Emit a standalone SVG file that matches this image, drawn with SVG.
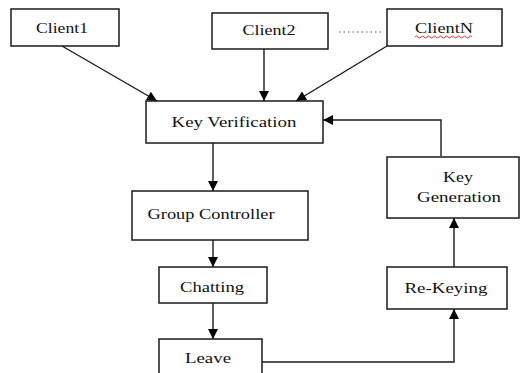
<svg xmlns="http://www.w3.org/2000/svg" width="521" height="373" viewBox="0 0 521 373">
<defs>
<style>
.box{fill:#fff;stroke:#1a1a1a;stroke-width:1.5}
.t{font-family:'Liberation Serif','DejaVu Serif',serif;font-size:15px;fill:#111;text-anchor:middle}
.c{stroke:#1a1a1a;stroke-width:1.4;fill:none}
</style>
<marker id="ah" viewBox="0 0 10 10" refX="10" refY="5" markerWidth="11" markerHeight="10" markerUnits="userSpaceOnUse" orient="auto">
<path d="M0,0 L10,5 L0,10 Z" fill="#000"/>
</marker>
</defs>
<rect width="521" height="373" fill="#fff"/>
<g id="connectors">
<line class="c" x1="62" y1="46" x2="157" y2="101" marker-end="url(#ah)"/>
<line class="c" x1="264" y1="49" x2="264" y2="101" marker-end="url(#ah)"/>
<line class="c" x1="387" y1="46" x2="296" y2="101" marker-end="url(#ah)"/>
<polyline class="c" points="441,156 441,120 323,120" marker-end="url(#ah)"/>
<line class="c" x1="213" y1="143" x2="213" y2="191" marker-end="url(#ah)"/>
<line class="c" x1="213" y1="240" x2="213" y2="267" marker-end="url(#ah)"/>
<line class="c" x1="213" y1="303" x2="213" y2="339" marker-end="url(#ah)"/>
<polyline class="c" points="262,362 454,362 454,309" marker-end="url(#ah)"/>
<line class="c" x1="454" y1="267" x2="454" y2="218" marker-end="url(#ah)"/>
<line x1="339" y1="32" x2="384" y2="32" stroke="#3a4f8a" stroke-width="1.2" stroke-dasharray="1.5,3"/>
</g>
<g id="client1"><rect class="box" x="11" y="9" width="108" height="37"/><text class="t" x="62" y="33" textLength="52" lengthAdjust="spacingAndGlyphs">Client1</text></g>
<g id="client2"><rect class="box" x="212" y="13" width="116" height="36"/><text class="t" x="269" y="35" textLength="53" lengthAdjust="spacingAndGlyphs">Client2</text></g>
<g id="clientN"><rect class="box" x="387" y="9" width="115" height="37"/><text class="t" x="444" y="33" textLength="58" lengthAdjust="spacingAndGlyphs">ClientN</text>
<path d="M415,37 q1.5,-2 3,0 t3,0 t3,0 t3,0 t3,0 t3,0 t3,0 t3,0 t3,0 t3,0 t3,0 t3,0 t3,0 t3,0 t3,0 t3,0 t3,0 t3,0 t3,0" fill="none" stroke="#e02020" stroke-width="0.9"/></g>
<g id="keyverification"><rect class="box" x="146" y="101" width="177" height="42"/><text class="t" x="234" y="127" textLength="125" lengthAdjust="spacingAndGlyphs">Key Verification</text></g>
<g id="groupcontroller"><rect class="box" x="132" y="191" width="176" height="49"/><text class="t" x="211" y="219" textLength="127" lengthAdjust="spacingAndGlyphs">Group Controller</text></g>
<g id="chatting"><rect class="box" x="159" y="267" width="108" height="36"/><text class="t" x="212" y="292" textLength="64" lengthAdjust="spacingAndGlyphs">Chatting</text></g>
<g id="leave"><rect class="box" x="159" y="339" width="103" height="40"/><text class="t" x="208" y="363" textLength="46" lengthAdjust="spacingAndGlyphs">Leave</text></g>
<g id="keygeneration"><rect class="box" x="387" y="157" width="132" height="61"/><text class="t" x="458" y="182" textLength="30" lengthAdjust="spacingAndGlyphs">Key</text><text class="t" x="459" y="202" textLength="84" lengthAdjust="spacingAndGlyphs">Generation</text></g>
<g id="rekeying"><rect class="box" x="387" y="267" width="120" height="42"/><text class="t" x="446" y="293" textLength="83" lengthAdjust="spacingAndGlyphs">Re-Keying</text></g>
</svg>
